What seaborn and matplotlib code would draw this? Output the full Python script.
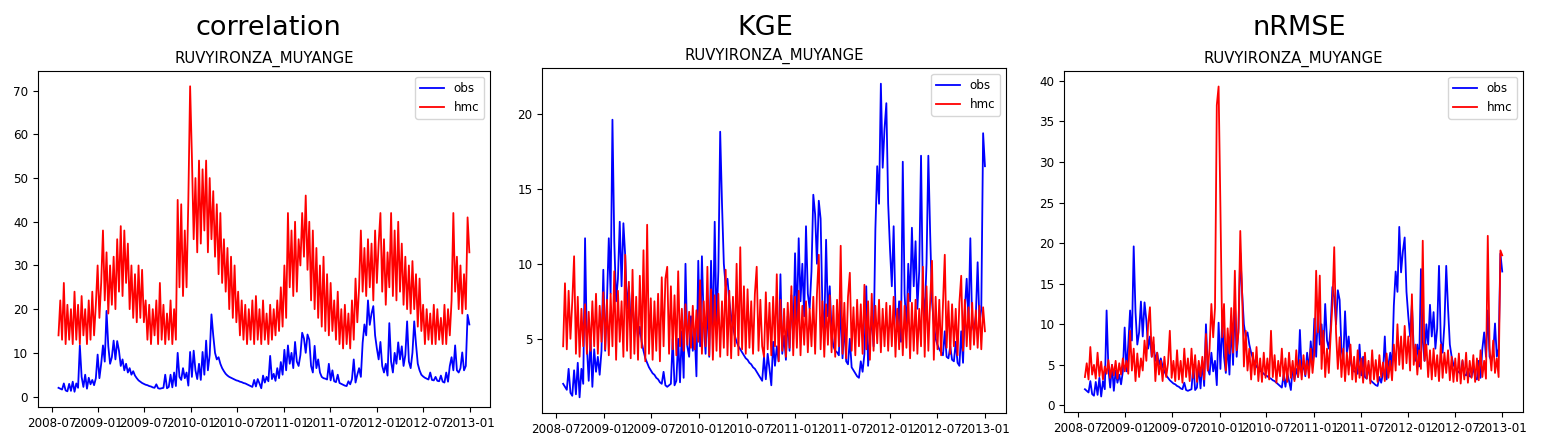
import matplotlib
matplotlib.use("Agg")
import matplotlib.pyplot as plt
import matplotlib.dates as mdates
import pandas as pd
import seaborn as sns

station = "RUVYIRONZA_MUYANGE"
metrics = ["correlation", "KGE", "nRMSE"]

# weekly discharge (first week 2008-07-28)
obs = [
    2.0, 1.8, 1.6, 3.0, 1.4, 1.2, 2.9, 1.3, 3.4, 1.1, 3.0, 2.0, 11.7, 4.5, 2.2, 5.0, 1.8, 4.3, 2.8, 3.8, 2.6, 4.2, 9.6,
    4.2, 7.5, 11.7, 8.0, 19.6, 11.5, 7.5, 9.0, 12.8, 8.5, 12.7, 10.5, 7.0, 8.5, 6.0, 7.5, 5.5, 6.5, 5.0, 5.8, 4.8, 4.2, 3.7, 3.4, 3.1, 2.9,
    2.7, 2.6, 2.4, 2.3, 2.1, 2.0, 2.8, 1.9, 1.8, 1.9, 2.0, 5.0, 1.9, 2.2, 5.0, 2.1, 5.5, 2.4, 10.0, 4.5, 3.8, 6.5, 4.2, 5.5, 2.5, 10.2,
    4.5, 10.5, 6.0, 4.0, 7.5, 3.8, 10.2, 5.0, 12.8, 6.0, 9.5, 18.8, 14.0, 10.0, 8.5, 9.0, 7.5, 6.5, 5.8, 5.2, 4.8, 4.5, 4.3, 4.1, 3.9, 3.7,
    3.6, 3.4, 3.3, 3.1, 3.0, 2.8, 2.6, 2.4, 2.2, 3.8, 2.3, 4.0, 3.0, 1.9, 4.8, 3.2, 4.5, 3.5, 9.3, 4.0, 5.2, 3.6, 6.5, 4.2, 7.9, 5.0,
    10.7, 6.0, 11.7, 7.5, 10.0, 6.5, 12.5, 8.0, 7.0, 9.5, 14.6, 13.3, 10.0, 14.2, 13.0, 7.0, 5.5, 11.6, 6.5, 8.5, 5.5, 4.5, 4.2, 4.1, 3.9, 7.5,
    3.7, 6.0, 3.5, 3.3, 5.0, 3.1, 2.9, 2.7, 2.5, 2.4, 3.5, 2.8, 4.0, 8.5, 3.2, 5.0, 6.5, 4.5, 12.3, 16.5, 14.0, 22.0, 16.4, 19.0, 20.7, 14.0,
    11.0, 8.5, 12.5, 7.0, 5.5, 7.5, 4.8, 16.8, 8.0, 5.5, 10.0, 7.5, 12.4, 8.5, 11.5, 7.0, 9.5, 17.2, 8.0, 6.5, 10.0, 17.2, 12.0, 7.5, 6.0, 5.0,
    4.6, 4.3, 4.1, 3.9, 5.5, 3.8, 3.7, 4.5, 3.6, 3.5, 4.8, 3.4, 3.2, 5.5, 3.4, 7.0, 9.0, 6.0, 11.7, 6.0, 5.5, 6.5, 10.1, 6.0, 7.0, 18.7, 16.5,
]

hmc_correlation = [
    14, 22, 13, 26, 12, 21, 13, 20, 12, 24, 13, 21, 12, 23, 14, 20, 12, 22, 13, 24, 14, 21, 30,
    18, 26, 38, 22, 33, 19, 30, 21, 32, 20, 36, 24, 39, 23, 38, 26, 35, 20, 30, 18, 28, 17, 30, 18, 29, 17,
    22, 13, 21, 12, 20, 14, 22, 12, 26, 13, 21, 12, 19, 13, 22, 12, 20, 13, 45, 25, 44, 23, 38, 25, 45, 71,
    55, 36, 50, 33, 54, 35, 52, 38, 54, 33, 50, 36, 47, 32, 44, 28, 42, 26, 36, 24, 34, 20, 32, 18, 30, 17,
    24, 14, 22, 13, 21, 12, 20, 13, 22, 12, 23, 13, 20, 12, 22, 13, 19, 12, 21, 13, 20, 14, 22, 15, 25, 16,
    30, 18, 42, 25, 38, 23, 40, 24, 36, 30, 42, 32, 46, 29, 40, 22, 38, 20, 34, 18, 30, 16, 32, 15, 28, 14,
    26, 15, 22, 13, 24, 12, 20, 11, 21, 12, 19, 11, 22, 13, 27, 17, 25, 38, 24, 34, 23, 36, 25, 35, 22, 38,
    26, 35, 42, 24, 36, 21, 33, 25, 42, 23, 38, 22, 40, 24, 35, 21, 32, 20, 30, 19, 31, 20, 28, 16, 27, 15,
    21, 12, 20, 13, 19, 12, 21, 12, 20, 13, 18, 12, 21, 12, 20, 14, 22, 42, 24, 32, 20, 30, 19, 28, 20, 41, 33,
]

hmc_kge = [
    4.5, 8.7, 4.3, 8.2, 5.0, 7.5, 10.5, 4.0, 7.8, 3.8, 7.0, 4.5, 7.3, 4.0, 6.8, 4.2, 7.5, 4.5, 8.0, 4.0, 7.2, 4.8, 8.1,
    4.3, 7.6, 3.9, 8.0, 4.5, 9.5, 3.6, 8.2, 4.8, 7.5, 3.8, 10.6, 4.2, 8.8, 3.7, 9.6, 4.0, 7.8, 3.6, 9.2, 4.4, 10.9, 3.5, 12.6, 4.0, 7.7,
    3.6, 7.5, 4.2, 8.0, 3.5, 9.1, 4.5, 9.0, 9.8, 4.0, 8.5, 4.3, 7.9, 3.9, 9.5, 4.5, 7.0, 4.2, 7.3, 4.6, 6.8, 4.4, 7.2, 4.3, 6.9, 4.8,
    8.9, 4.0, 7.5, 4.5, 9.8, 3.9, 8.3, 3.6, 7.9, 4.2, 8.0, 3.8, 7.5, 4.4, 9.6, 3.9, 8.2, 3.7, 7.8, 4.5, 10.0, 3.9, 11.1, 4.3, 8.5, 4.0,
    8.3, 4.4, 7.5, 4.0, 8.0, 9.8, 4.2, 7.6, 4.5, 3.8, 8.1, 4.3, 7.4, 3.9, 7.8, 4.5, 9.3, 3.5, 7.6, 4.2, 7.0, 3.8, 7.4, 4.4, 8.5, 3.9,
    7.8, 4.4, 8.2, 3.9, 7.2, 4.6, 7.5, 4.1, 7.0, 4.5, 7.8, 4.0, 8.0, 10.6, 4.3, 7.5, 3.8, 7.3, 4.6, 7.9, 4.1, 7.2, 3.8, 7.6, 4.5, 11.2,
    4.0, 7.4, 3.7, 7.8, 9.4, 4.2, 7.1, 3.9, 7.6, 4.5, 7.3, 4.0, 8.6, 4.3, 7.5, 3.6, 8.0, 4.2, 7.2, 4.7, 7.6, 4.1, 7.0, 4.5, 7.4, 4.2,
    7.2, 4.5, 7.8, 3.8, 7.0, 4.3, 7.5, 3.9, 7.2, 4.4, 8.0, 3.7, 7.4, 4.2, 7.6, 4.0, 7.0, 4.5, 9.8, 3.8, 8.5, 4.2, 7.5, 10.2, 3.6, 7.8,
    4.3, 7.6, 3.9, 7.2, 10.6, 4.4, 7.5, 4.0, 7.3, 4.5, 7.0, 3.9, 7.4, 9.2, 4.2, 7.6, 4.5, 7.1, 4.3, 7.4, 4.6, 6.9, 4.4, 7.2, 4.3, 7.1, 5.5,
]

hmc_nrmse = [
    3.5, 5.2, 3.2, 7.2, 3.8, 5.0, 3.3, 6.5, 3.6, 5.4, 3.2, 4.8, 3.9, 5.6, 3.4, 5.0, 3.7, 5.5, 3.3, 5.2, 3.8, 5.8, 4.2,
    5.5, 3.9, 9.2, 4.3, 7.0, 3.0, 6.4, 3.5, 5.8, 4.3, 8.0, 5.5, 10.0, 12.1, 6.0, 8.4, 3.0, 6.5, 3.8, 5.5, 3.0, 6.0, 3.5, 5.2, 9.2, 3.4,
    5.5, 3.0, 6.8, 3.2, 5.5, 2.8, 7.0, 3.5, 5.8, 3.0, 7.0, 3.4, 6.2, 2.9, 5.5, 3.6, 6.0, 3.2, 8.8, 4.3, 7.0, 12.5, 8.4, 12.0, 37.0, 39.3,
    24.4, 8.4, 12.5, 4.3, 9.5, 6.4, 12.0, 6.5, 16.6, 6.8, 9.0, 21.5, 14.0, 4.8, 9.2, 4.3, 7.0, 3.2, 6.5, 3.8, 7.2, 3.0, 5.8, 2.9, 6.5, 3.4,
    5.8, 3.2, 9.2, 3.5, 6.2, 2.8, 5.5, 3.6, 7.0, 3.1, 5.8, 2.9, 6.5, 3.4, 5.5, 3.0, 6.8, 3.5, 5.6, 3.2, 6.2, 3.8, 5.5, 3.4, 7.0, 4.0,
    6.5, 16.6, 9.0, 16.0, 4.5, 9.2, 3.5, 7.0, 4.0, 8.5, 12.5, 19.5, 9.0, 4.5, 8.4, 3.5, 7.0, 3.0, 6.5, 3.8, 7.5, 3.2, 6.0, 2.9, 6.8, 3.4,
    5.8, 2.8, 6.5, 3.3, 5.5, 2.7, 6.8, 3.2, 5.6, 2.9, 6.2, 3.5, 5.3, 3.0, 6.4, 3.4, 5.5, 3.1, 7.5, 4.3, 10.0, 5.0, 8.5, 4.5, 9.8, 5.2,
    8.5, 4.3, 13.7, 5.0, 7.5, 3.8, 6.8, 4.5, 20.3, 5.5, 7.5, 3.5, 6.8, 3.2, 7.0, 3.6, 6.2, 3.0, 7.5, 3.4, 6.5, 4.0, 6.8, 3.1, 6.0, 2.9,
    5.8, 3.0, 6.4, 2.7, 5.6, 3.2, 6.5, 2.8, 5.5, 3.4, 6.2, 2.9, 5.8, 3.1, 6.8, 3.5, 5.5, 3.3, 20.9, 7.0, 4.3, 8.0, 4.0, 5.8, 3.5, 19.1, 18.5,
]

dates = pd.date_range("2008-07-28", periods=len(obs), freq="7D")
hmc_runs = [hmc_correlation, hmc_kge, hmc_nrmse]

fig = plt.figure(figsize=(15.43, 4.46), dpi=100)

boxes = [
    [0.0246, 0.0874, 0.2929, 0.7534],
    [0.3513, 0.0740, 0.3007, 0.7735],
    [0.6896, 0.0762, 0.2975, 0.7646],
]
title_x = [0.1739, 0.4958, 0.8419]

for metric, hmc, box, tx in zip(metrics, hmc_runs, boxes, title_x):
    ax = fig.add_axes(box)
    sns.lineplot(x=dates, y=obs, color="blue", label="obs", linewidth=1.3,
                 estimator=None, ax=ax)
    sns.lineplot(x=dates, y=hmc, color="red", label="hmc", linewidth=1.3,
                 estimator=None, ax=ax)
    ax.xaxis.set_major_locator(mdates.MonthLocator(bymonth=[1, 7]))
    ax.xaxis.set_major_formatter(mdates.DateFormatter("%Y-%m"))
    ax.tick_params(labelsize=8.6)
    ax.set_xlabel("")
    ax.set_ylabel("")
    ax.set_title(station, fontsize=10.7)
    ax.legend(loc="upper right", fontsize=8.6)
    fig.text(tx, 0.9215, metric, fontsize=19.5, ha="center", va="baseline")

fig.savefig("out.png", dpi=100)
